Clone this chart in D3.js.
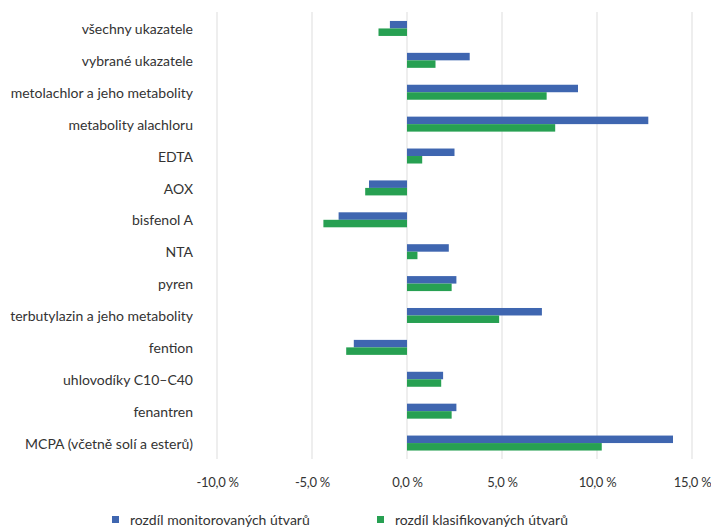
<!DOCTYPE html>
<html><head><meta charset="utf-8">
<script src="https://cdn.jsdelivr.net/npm/d3@7/dist/d3.min.js"></script>
<style>
body{margin:0;background:#fff;}
text{font-family:Lato,"Open Sans",sans-serif;fill:#333;}
</style></head>
<body><svg id="c" width="711" height="530"></svg>
<script>
const categories = ["všechny ukazatele","vybrané ukazatele","metolachlor a jeho metabolity","metabolity alachloru","EDTA","AOX","bisfenol A","NTA","pyren","terbutylazin a jeho metabolity","fention","uhlovodíky C10–C40","fenantren","MCPA (včetně solí a esterů)"];
const monitored = [-0.9, 3.3, 9.0, 12.7, 2.5, -2.0, -3.6, 2.2, 2.6, 7.1, -2.8, 1.9, 2.6, 14.0];
const classified = [-1.5, 1.5, 7.35, 7.8, 0.8, -2.2, -4.4, 0.55, 2.35, 4.85, -3.2, 1.8, 2.35, 10.25];
const tickValues = [-10, -5, 0, 5, 10, 15];
const seriesNames = ["rozdíl monitorovaných útvarů", "rozdíl klasifikovaných útvarů"];
const colors = ["#3f66b0", "#27a052"];

const svg = d3.select("#c");
const x = d3.scaleLinear().domain([-10, 15]).range([217, 692]);
const y = d3.scaleBand().domain(categories).range([12.5, 459]).paddingInner(0.53).paddingOuter(0.265);
const sub = d3.scaleBand().domain([0,1]).range([0, y.bandwidth()]);

// gridlines
svg.append("g").selectAll("line").data(tickValues).join("line")
  .attr("x1", d => x(d)).attr("x2", d => x(d))
  .attr("y1", 12).attr("y2", 459)
  .attr("stroke", "#e8e8e8").attr("stroke-width", 1.5);

const series = [monitored, classified];
series.forEach((vals, si) => {
  svg.append("g").selectAll("rect").data(vals).join("rect")
    .attr("x", d => x(Math.min(0, d)))
    .attr("width", d => Math.abs(x(d) - x(0)))
    .attr("y", (d, i) => y(categories[i]) + sub(si))
    .attr("height", sub.bandwidth())
    .attr("fill", colors[si]);
});

// category labels
const yAxis = d3.axisLeft(y).tickSize(0).tickPadding(0);
const ya = svg.append("g").attr("transform", "translate(193,0)").call(yAxis);
ya.select(".domain").remove();
ya.selectAll("text").style("font-size", "14px").attr("fill", "#333").attr("dy", "0.4em");

// x axis tick labels
const xAxis = d3.axisBottom(x).tickValues(tickValues).tickSize(0).tickPadding(0)
  .tickFormat(d => d3.format(".1f")(d).replace(".", ",").replace("\u2212", "-") + " %");
const xa = svg.append("g").attr("transform", "translate(0,478)").call(xAxis);
xa.select(".domain").remove();
xa.selectAll("text").style("font-size", "13px").style("letter-spacing", "-0.3px").attr("fill", "#333");

// legend
const legX = [112, 377];
seriesNames.forEach((n, i) => {
  svg.append("rect").attr("x", legX[i]).attr("y", 516).attr("width", 7).attr("height", 7).attr("fill", colors[i]);
  svg.append("text").attr("x", legX[i] + 18).attr("y", 525).style("font-size", "14px").text(n);
});
</script></body></html>
